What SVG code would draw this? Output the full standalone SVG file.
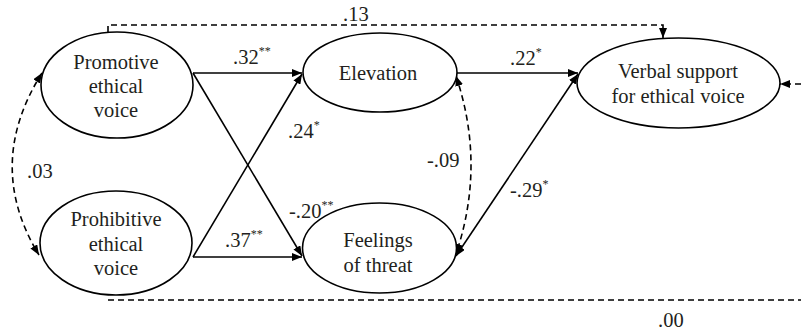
<svg xmlns="http://www.w3.org/2000/svg" width="801" height="335" viewBox="0 0 801 335">
<defs>
<marker id="ah" viewBox="0 0 10 8" refX="10" refY="4" markerWidth="10" markerHeight="8" markerUnits="userSpaceOnUse" orient="auto-start-reverse">
<path d="M0,0 L10,4 L0,8 z" fill="#000"/>
</marker>
<style>
.n ellipse{fill:#fff;stroke:#000;stroke-width:1.6}
text{font-family:'Liberation Serif','DejaVu Serif',serif;font-size:20.5px;fill:#231f20}
.n text{text-anchor:middle}
.sup{font-size:12px}
.c path{fill:none;stroke:#000;stroke-width:1.6}
.c .d{stroke-dasharray:6 4}
</style>
</defs>
<rect width="801" height="335" fill="#fff"/>
<g class="c">
<path d="M193,73 H302" marker-end="url(#ah)"/>
<path d="M193,73 L302,256" marker-end="url(#ah)"/>
<path d="M193,257 L302,74" marker-end="url(#ah)"/>
<path d="M193,257 H302" marker-end="url(#ah)"/>
<path d="M456,73 H578" marker-end="url(#ah)"/>
<path d="M578,74 L456,256" marker-start="url(#ah)" marker-end="url(#ah)"/>
<path class="d" d="M456,76 Q486,165 456,254" marker-start="url(#ah)" marker-end="url(#ah)"/>
<path class="d" d="M42,73 Q-16,165 39,255" marker-start="url(#ah)" marker-end="url(#ah)"/>
<path class="d" d="M108,32 V25 H663 V38" marker-end="url(#ah)"/>
<path class="d" d="M801,84 H780" marker-end="url(#ah)"/>
<path class="d" d="M108,300 H801"/>
</g>
<g font-family="Liberation Serif, DejaVu Serif, serif">
<g id="promotive" class="n">
<ellipse cx="117" cy="85" rx="76" ry="53"/>
<text x="116" y="69">Promotive</text>
<text x="116" y="93">ethical</text>
<text x="116" y="117">voice</text>
</g>
<g id="prohibitive" class="n">
<ellipse cx="116" cy="243" rx="76" ry="52"/>
<text x="116" y="226">Prohibitive</text>
<text x="116" y="251">ethical</text>
<text x="116" y="275">voice</text>
</g>
<g id="elevation" class="n">
<ellipse cx="380" cy="72.5" rx="77" ry="39.5"/>
<text x="378" y="80">Elevation</text>
</g>
<g id="threat" class="n">
<ellipse cx="379.5" cy="248" rx="77" ry="45"/>
<text x="378" y="247">Feelings</text>
<text x="378" y="272">of threat</text>
</g>
<g id="verbal" class="n">
<ellipse cx="678.5" cy="83" rx="101.5" ry="45"/>
<text x="678" y="78">Verbal support</text>
<text x="678" y="103">for ethical voice</text>
</g>
<g id="labels">
<text x="343" y="21">.13</text>
<text x="233" y="64">.32<tspan class="sup" dy="-9">**</tspan></text>
<text x="288" y="138">.24<tspan class="sup" dy="-9">*</tspan></text>
<text x="510" y="65">.22<tspan class="sup" dy="-9">*</tspan></text>
<text x="427" y="167">-.09</text>
<text x="510" y="197">-.29<tspan class="sup" dy="-9">*</tspan></text>
<text x="27" y="178">.03</text>
<text x="289" y="218">-.20<tspan class="sup" dy="-9">**</tspan></text>
<text x="225" y="247">.37<tspan class="sup" dy="-9">**</tspan></text>
<text x="658" y="327">.00</text>
</g>
</g>
</svg>
